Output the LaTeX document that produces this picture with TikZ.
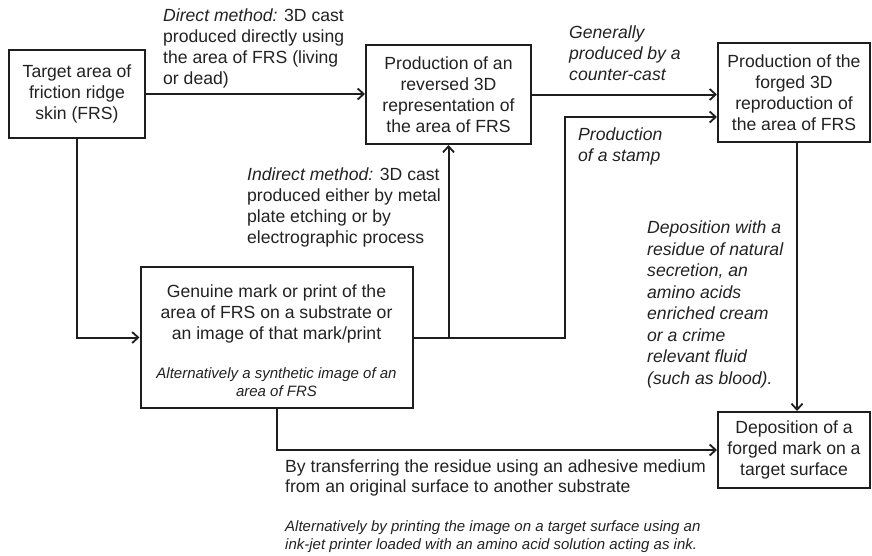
\documentclass[tikz,border=0pt]{standalone}
\usepackage{fontspec}
\setmainfont{Liberation Sans}
\usetikzlibrary{arrows.meta}
\definecolor{ink}{HTML}{1E1E1E}
\definecolor{txt}{HTML}{222222}
\newcommand{\mainsz}{\fontsize{17.6}{21}\selectfont}
\newcommand{\smallsz}{\fontsize{15}{18}\selectfont}
\tikzset{
  box/.style={draw=ink, line width=2pt, fill=white, inner sep=0pt, align=center, text=txt, font=\mainsz},
  lbl/.style={inner sep=0pt, align=left, text=txt, font=\mainsz, anchor=north west},
  arr/.style={draw=ink, line width=2pt, -{Straight Barb[length=6pt,width=11pt,line width=1.8pt]}},
  conn/.style={draw=ink, line width=2pt}
}
\begin{document}
\begin{tikzpicture}[x=1pt,y=-1pt]
\useasboundingbox (0,0) rectangle (872,555);
% boxes
\node[box, minimum width=136pt, minimum height=88pt] (A) at (77,94) {Target area of\\friction ridge\\skin (FRS)};
\node[box, minimum width=165pt, minimum height=99pt] (B) at (448.5,94.5) {Production of an\\reversed 3D\\representation of\\the area of FRS};
\node[box, minimum width=152pt, minimum height=99pt] (C) at (794,92.5) {Production of the\\forged 3D\\reproduction of\\the area of FRS};
\node[box, minimum width=272pt, minimum height=141pt] (D) at (276.5,337.5) {};
\node[inner sep=0pt, align=center, text=txt, font=\mainsz] (Dtxt) at (276.5,314) {Genuine mark or print of the\\area of FRS on a substrate or\\an image of that mark/print};
\node[inner sep=0pt, align=center, text=txt, font=\smallsz\itshape] (Dalt) at (276.5,382) {Alternatively a synthetic image of an\\area of FRS};
\node[box, minimum width=152pt, minimum height=76pt] (E) at (794,450) {Deposition of a\\forged mark on a\\target surface};
% labels
\node[lbl] (ldirect) at (163,9) {\textit{Direct method:} 3D cast\\produced directly using\\the area of FRS (living\\or dead)};
\node[lbl, font=\mainsz\itshape] (lgen) at (569,26) {Generally\\produced by a\\counter-cast};
\node[lbl, font=\mainsz\itshape] (lstamp) at (578,128) {Production\\of a stamp};
\node[lbl] (lindirect) at (247,168) {\textit{Indirect method:} 3D cast\\produced either by metal\\plate etching or by\\electrographic process};
\node[lbl, font=\fontsize{17.6}{21.5}\selectfont\itshape] (ldep) at (647,221) {Deposition with a\\residue of natural\\secretion, an\\amino acids\\enriched cream\\or a crime\\relevant fluid\\(such as blood).};
\node[lbl, font=\fontsize{17.6}{19.5}\selectfont] (ltrans) at (285,460) {By transferring the residue using an adhesive medium\\from an original surface to another substrate};
\node[lbl, font=\smallsz\itshape] (lalt) at (285,520) {Alternatively by printing the image on a target surface using an\\ink-jet printer loaded with an amino acid solution acting as ink.};
% connectors
\coordinate (stampcorner) at (565,117);
\draw[arr] (A.east) -- (A.east -| B.west);
\draw[arr] (B.east) -- (B.east -| C.west);
\draw[arr] (A.south) |- (D.west);
\draw[arr] (D.east) -| (stampcorner) -- (stampcorner -| C.west);
\draw[arr] (D.east -| B.south) -- (B.south);
\draw[arr] (D.south) |- (E.west);
\draw[arr] ([xshift=3pt]C.south) -- ([xshift=3pt]C.south |- E.north);
\end{tikzpicture}
\end{document}
